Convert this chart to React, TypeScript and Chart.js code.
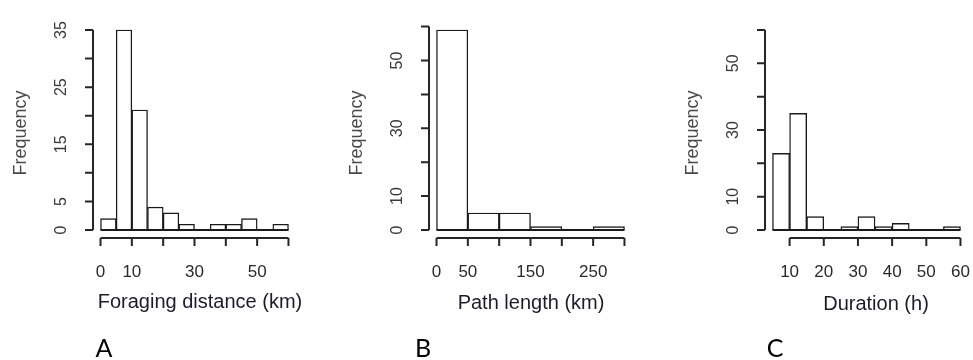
import React, { useEffect, useRef } from 'react';
import { Chart, registerables } from 'chart.js';

Chart.register(...registerables);

// A — foraging distance (km), 5 km bins
const distanceBreaks = [0, 5, 10, 15, 20, 25, 30, 35, 40, 45, 50, 55, 60];
const distanceCounts = [2, 35, 21, 4, 3, 1, 0, 1, 1, 2, 0, 1];
const distanceXTicks = [0, 10, 20, 30, 40, 50, 60];
const distanceXLabels = ['0', '10', '', '30', '', '50', ''];
const distanceYTicks = [0, 5, 10, 15, 20, 25, 30, 35];
const distanceYLabels = ['0', '5', '', '15', '', '25', '', '35'];

// B — path length (km), 50 km bins
const pathBreaks = [0, 50, 100, 150, 200, 250, 300];
const pathCounts = [59, 5, 5, 1, 0, 1];
const pathXTicks = [0, 50, 100, 150, 200, 250, 300];
const pathXLabels = ['0', '50', '', '150', '', '250', ''];
const pathYTicks = [0, 10, 20, 30, 40, 50, 60];
const pathYLabels = ['0', '10', '', '30', '', '50', ''];

// C — trip duration (h), 5 h bins, y axis fixed at 0–60
const durationBreaks = [5, 10, 15, 20, 25, 30, 35, 40, 45, 50, 55, 60];
const durationCounts = [23, 35, 4, 0, 1, 4, 1, 2, 0, 0, 1];
const durationXTicks = [10, 20, 30, 40, 50, 60];
const durationXLabels = ['10', '20', '30', '40', '50', '60'];
const durationYTicks = [0, 10, 20, 30, 40, 50, 60];
const durationYLabels = ['0', '10', '', '30', '', '50', ''];
const durationYLimit: [number, number] = [0, 60];

const W = 973;
const H = 360;

const SANS = '"Liberation Sans", Arial, sans-serif';
const AXIS_COLOR = '#262626';
const BAR_COLOR = '#1a1a1a';
const TICK_LEN = 8;

interface Layout {
  left: number;
  right: number;
  top: number;
  bottom: number;
  titleX: number;
  titleY: number;
  letterX: number;
}

interface PanelSpec {
  breaks: number[];
  counts: number[];
  xTicks: number[];
  xLabels: string[];
  yTicks: number[];
  yLabels: string[];
  yLimit: [number, number];
  title: string;
  letter: string;
  layout: Layout;
}

const panels: PanelSpec[] = [
  {
    breaks: distanceBreaks,
    counts: distanceCounts,
    xTicks: distanceXTicks,
    xLabels: distanceXLabels,
    yTicks: distanceYTicks,
    yLabels: distanceYLabels,
    yLimit: [0, Math.max(...distanceCounts)],
    title: 'Foraging distance (km)',
    letter: 'A',
    layout: { left: 93, right: 296, top: 22, bottom: 238, titleX: 200, titleY: 308, letterX: 104 },
  },
  {
    breaks: pathBreaks,
    counts: pathCounts,
    xTicks: pathXTicks,
    xLabels: pathXLabels,
    yTicks: pathYTicks,
    yLabels: pathYLabels,
    yLimit: [0, Math.max(...pathCounts)],
    title: 'Path length (km)',
    letter: 'B',
    layout: { left: 429, right: 632, top: 22, bottom: 238, titleX: 531, titleY: 309, letterX: 423 },
  },
  {
    breaks: durationBreaks,
    counts: durationCounts,
    xTicks: durationXTicks,
    xLabels: durationXLabels,
    yTicks: durationYTicks,
    yLabels: durationYLabels,
    yLimit: durationYLimit,
    title: 'Duration (h)',
    letter: 'C',
    layout: { left: 765, right: 968, top: 22, bottom: 238, titleX: 876, titleY: 310, letterX: 775 },
  },
];

// base-graphics style 4% padding around a data range
const padRange = (lo: number, hi: number): [number, number] => {
  const d = (hi - lo) * 0.04;
  return [lo - d, hi + d];
};

function makeAxesPlugin(spec: PanelSpec) {
  return {
    id: 'baseAxes',
    afterDatasetsDraw(chart: Chart) {
      const { ctx, chartArea } = chart;
      const xs = chart.scales.x;
      const ys = chart.scales.y;
      const L = spec.layout;
      ctx.save();

      // baseline under the bins (zero-count bins collapse onto it)
      const y0 = ys.getPixelForValue(0);
      ctx.strokeStyle = BAR_COLOR;
      ctx.lineWidth = 1.8;
      ctx.beginPath();
      ctx.moveTo(xs.getPixelForValue(spec.breaks[0]), y0);
      ctx.lineTo(xs.getPixelForValue(spec.breaks[spec.breaks.length - 1]), y0);
      ctx.stroke();

      // x axis, drawn below the plot region
      ctx.strokeStyle = AXIS_COLOR;
      ctx.lineWidth = 2;
      const xa = chartArea.bottom;
      ctx.beginPath();
      ctx.moveTo(xs.getPixelForValue(spec.xTicks[0]), xa);
      ctx.lineTo(xs.getPixelForValue(spec.xTicks[spec.xTicks.length - 1]), xa);
      spec.xTicks.forEach((t) => {
        const px = xs.getPixelForValue(t);
        ctx.moveTo(px, xa);
        ctx.lineTo(px, xa + TICK_LEN);
      });
      ctx.stroke();

      ctx.fillStyle = '#2a2a2a';
      ctx.font = `17px ${SANS}`;
      ctx.textAlign = 'center';
      ctx.textBaseline = 'middle';
      spec.xTicks.forEach((t, i) => {
        if (spec.xLabels[i]) ctx.fillText(spec.xLabels[i], xs.getPixelForValue(t), xa + 34);
      });

      // y axis at the left edge of the plot region
      const ya = chartArea.left;
      ctx.beginPath();
      ctx.moveTo(ya, ys.getPixelForValue(spec.yTicks[0]));
      ctx.lineTo(ya, ys.getPixelForValue(spec.yTicks[spec.yTicks.length - 1]));
      spec.yTicks.forEach((t) => {
        const py = ys.getPixelForValue(t);
        ctx.moveTo(ya, py);
        ctx.lineTo(ya - TICK_LEN, py);
      });
      ctx.stroke();

      ctx.fillStyle = '#3a3a3a';
      ctx.font = `16px ${SANS}`;
      spec.yTicks.forEach((t, i) => {
        if (!spec.yLabels[i]) return;
        ctx.save();
        ctx.translate(ya - 31, ys.getPixelForValue(t));
        ctx.rotate(-Math.PI / 2);
        ctx.fillText(spec.yLabels[i], 0, 0);
        ctx.restore();
      });

      // axis titles
      ctx.fillStyle = '#4a4a4a';
      ctx.font = `18px ${SANS}`;
      ctx.save();
      ctx.translate(ya - 72, (chartArea.top + chartArea.bottom) / 2 + 3);
      ctx.rotate(-Math.PI / 2);
      ctx.fillText('Frequency', 0, 0);
      ctx.restore();

      ctx.fillStyle = '#1c1c2a';
      ctx.font = `20px ${SANS}`;
      ctx.textBaseline = 'alphabetic';
      ctx.fillText(spec.title, L.titleX, L.titleY);

      // panel letter
      ctx.fillStyle = '#000';
      ctx.font = '25px Lato, "Liberation Sans", sans-serif';
      ctx.fillText(spec.letter, L.letterX, 357);

      ctx.restore();
    },
  };
}

function Histogram({ spec }: { spec: PanelSpec }) {
  const ref = useRef<HTMLCanvasElement | null>(null);

  useEffect(() => {
    if (!ref.current) return;
    const L = spec.layout;
    const bars = spec.counts.map((c, i) => ({
      x: (spec.breaks[i] + spec.breaks[i + 1]) / 2,
      y: c,
    }));
    const [xMin, xMax] = padRange(spec.breaks[0], spec.breaks[spec.breaks.length - 1]);
    const [yMin, yMax] = padRange(spec.yLimit[0], spec.yLimit[1]);
    const binWidth = spec.breaks[1] - spec.breaks[0];

    const chart = new Chart(ref.current, {
      type: 'bar',
      data: {
        datasets: [
          {
            data: bars,
            backgroundColor: '#ffffff',
            borderColor: BAR_COLOR,
            borderWidth: 1.4,
            borderSkipped: false,
            barPercentage: 1,
            categoryPercentage: 1,
          },
        ],
      },
      options: {
        responsive: false,
        animation: false,
        events: [],
        layout: {
          padding: { left: L.left, right: W - L.right, top: L.top, bottom: H - L.bottom },
        },
        plugins: { legend: { display: false }, tooltip: { enabled: false } },
        scales: {
          x: {
            type: 'linear',
            display: false,
            offset: false,
            min: xMin,
            max: xMax,
            ticks: { stepSize: binWidth, includeBounds: false },
          },
          y: {
            type: 'linear',
            display: false,
            min: yMin,
            max: yMax,
            ticks: { includeBounds: false },
          },
        },
      },
      plugins: [makeAxesPlugin(spec)],
    } as any);

    return () => chart.destroy();
  }, [spec]);

  return (
    <canvas
      ref={ref}
      width={W}
      height={H}
      style={{ position: 'absolute', left: 0, top: 0, width: W, height: H }}
    />
  );
}

export default function App() {
  return (
    <div
      style={{
        position: 'fixed',
        left: 0,
        top: 0,
        width: W,
        height: H,
        background: '#ffffff',
        overflow: 'hidden',
      }}
    >
      {panels.map((p) => (
        <Histogram key={p.letter} spec={p} />
      ))}
    </div>
  );
}
